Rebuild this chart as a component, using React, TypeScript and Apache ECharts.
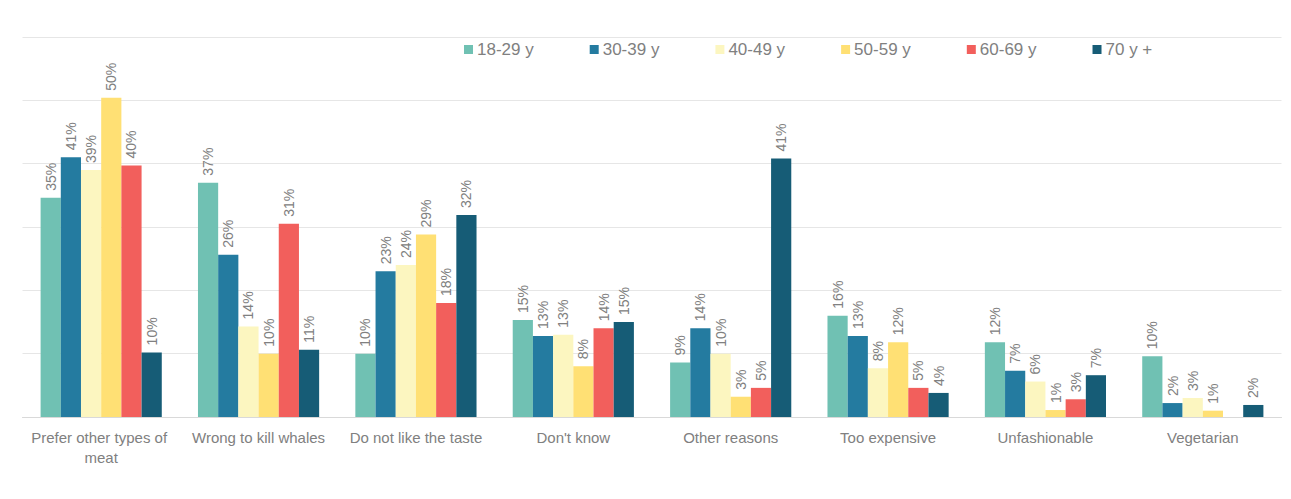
import React, { useEffect, useRef } from "react";
import * as echarts from "echarts";

const categories = [
  "Prefer other types of meat",
  "Wrong to kill whales",
  "Do not like the taste",
  "Don't know",
  "Other reasons",
  "Too expensive",
  "Unfashionable",
  "Vegetarian",
];

const seriesNames = ["18-29 y", "30-39 y", "40-49 y", "50-59 y", "60-69 y", "70 y +"];

const age18_29 = [34.6, 37, 10, 15.3, 8.6, 16, 11.8, 9.6];
const age30_39 = [41, 25.6, 23, 12.8, 14, 12.8, 7.3, 2.2];
const age40_49 = [39, 14.3, 24, 13, 10, 7.7, 5.6, 3];
const age50_59 = [50.4, 10, 28.8, 8, 3.2, 11.8, 1.1, 1];
const age60_69 = [39.7, 30.5, 18, 14, 4.6, 4.6, 2.8, null];
const age70plus = [10.2, 10.6, 31.9, 15, 40.8, 3.8, 6.6, 1.9];

const seriesValues = [age18_29, age30_39, age40_49, age50_59, age60_69, age70plus];

const colors = ["#70C1B3", "#247BA0", "#FCF6C0", "#FFE074", "#F25F5C", "#165C76"];

export default function App() {
  const ref = useRef<HTMLDivElement>(null);

  useEffect(() => {
    if (!ref.current) return;
    const chart = echarts.init(ref.current, null, { renderer: "svg" });
    const textColor = "#808080";
    chart.setOption({
      animation: false,
      color: colors,
      textStyle: { fontFamily: "'Liberation Sans', Arial, sans-serif" },
      legend: {
        data: seriesNames,
        left: 459,
        top: 36,
        itemWidth: 9,
        itemHeight: 9,
        itemGap: 56,
        icon: "rect",
        textStyle: { color: textColor, fontSize: 17, padding: [0, 0, 0, -1] },
      },
      grid: { left: 22.5, right: 9.5, top: 37, bottom: 82, containLabel: false },
      xAxis: {
        type: "category",
        data: categories,
        axisLine: { show: true, lineStyle: { color: "#d9d9d9", width: 1 } },
        axisTick: { show: false },
        axisLabel: {
          color: textColor,
          fontSize: 15,
          lineHeight: 20,
          margin: 10,
          width: 156,
          overflow: "break",
          interval: 0,
        },
      },
      yAxis: {
        type: "value",
        min: 0,
        max: 60,
        interval: 10,
        axisLabel: { show: false },
        axisLine: { show: false },
        axisTick: { show: false },
        splitLine: { lineStyle: { color: "#e6e6e6", width: 1 } },
      },
      series: seriesNames.map((name, i) => ({
        name,
        type: "bar",
        data: seriesValues[i],
        barGap: "0%",
        barCategoryGap: "23%",
        itemStyle: { color: colors[i] },
        label: {
          show: true,
          position: "top",
          rotate: 90,
          align: "left",
          verticalAlign: "middle",
          distance: 7,
          color: textColor,
          fontSize: 14,
          formatter: (p: any) => (p.value == null ? "" : Math.round(p.value) + "%"),
        },
      })),
    });
    return () => chart.dispose();
  }, []);

  return (
    <div
      ref={ref}
      style={{ position: "fixed", left: 0, top: 0, width: 1291, height: 499, background: "#ffffff" }}
    />
  );
}
